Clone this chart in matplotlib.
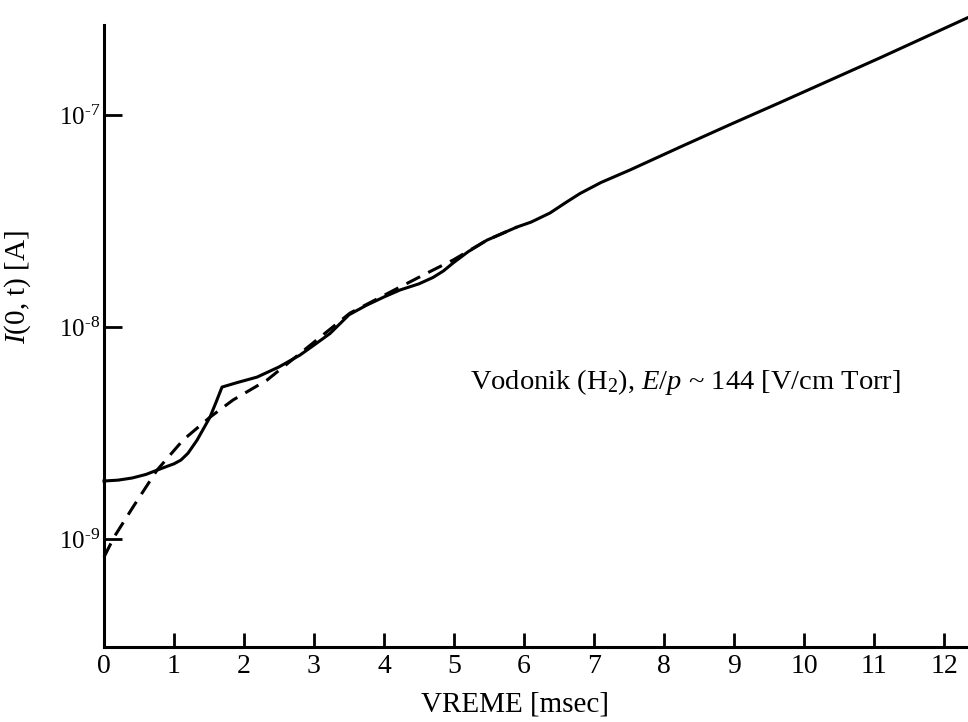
import matplotlib.pyplot as plt
import numpy as np
from matplotlib.ticker import FixedLocator, FixedFormatter

# --- podaci procitani sa slike ---
t_puna = [0.0, 0.2, 0.4, 0.6, 0.757, 0.9, 1.0, 1.1, 1.2, 1.33, 1.42, 1.514, 1.6,
          1.686, 1.9, 2.186, 2.5, 2.8, 3.0, 3.23, 3.5, 3.75, 4.0, 4.229, 4.5,
          4.7, 4.85, 4.986, 5.2, 5.471, 5.9, 6.1, 6.371, 6.6, 6.8, 7.1, 7.514,
          8.229, 8.943, 9.657, 11.086, 12.33]
log_puna = [-8.726, -8.722, -8.712, -8.695, -8.675, -8.657, -8.645, -8.627,
            -8.595, -8.533, -8.48, -8.425, -8.355, -8.283, -8.262, -8.236,
            -8.188, -8.132, -8.085, -8.03, -7.942, -7.897, -7.858, -7.825,
            -7.796, -7.766, -7.735, -7.698, -7.645, -7.590, -7.528, -7.505,
            -7.462, -7.412, -7.37, -7.318, -7.259, -7.151, -7.045, -6.941,
            -6.73, -6.542]

t_isp = [0.0, 0.143, 0.414, 0.757, 1.129, 1.514, 1.843, 2.329, 2.986, 3.514,
         4.229, 4.7, 4.986, 5.471, 5.9]
log_isp = [-9.085, -8.991, -8.849, -8.675, -8.533, -8.425, -8.344, -8.25,
           -8.075, -7.934, -7.811, -7.731, -7.684, -7.59, -7.528]

x_ticks = list(range(0, 13))
y_ticks = [1e-9, 1e-8, 1e-7]
y_labels = ['10$^{\\mathregular{\u20109}}$', '10$^{\\mathregular{\u20108}}$',
            '10$^{\\mathregular{\u20107}}$']

plt.rcParams['font.family'] = ['Liberation Serif', 'DejaVu Serif']
plt.rcParams['mathtext.fontset'] = 'custom'
plt.rcParams['mathtext.rm'] = 'Liberation Serif'
plt.rcParams['mathtext.it'] = 'Liberation Serif:italic'

fig = plt.figure(figsize=(9.68, 7.22), dpi=100)
ax = fig.add_axes([104/968, 1 - 647/722, 1 - 104/968, (647 - 15)/722])

ax.plot(t_puna, 10**np.array(log_puna), color='black', lw=2.2, clip_on=False,
        solid_joinstyle='round')
ax.plot(t_isp, 10**np.array(log_isp), color='black', lw=2.2, dashes=(5, 3), clip_on=False)

ax.set_yscale('log')
ax.set_xlim(0, 864/70)
ax.set_ylim(10**-9.509, 10**-6.528)

ax.spines['top'].set_visible(False)
ax.spines['right'].set_visible(False)
ax.spines['left'].set_linewidth(2.2)
ax.spines['bottom'].set_linewidth(2.2)
ax.spines['left'].set_bounds(10**-9.509, 10**-6.575)

ax.xaxis.set_major_locator(FixedLocator(x_ticks))
ax.yaxis.set_major_locator(FixedLocator(y_ticks))
ax.yaxis.set_major_formatter(FixedFormatter(y_labels))
ax.yaxis.set_minor_locator(FixedLocator([]))
ax.tick_params(axis='x', direction='in', length=10, width=2, labelsize=20, pad=5)
ax.tick_params(axis='y', direction='in', length=13, width=2, labelsize=18, pad=3)

fig.text(18/968, 1 - 287/722, '$I$(0, t) [A]', rotation=90, fontsize=21,
         ha='center', va='center')
fig.text(515/968, 1 - 704/722, 'VREME [msec]', fontsize=21, ha='center', va='center')
ax.text(470, 722 - 382, 'Vodonik (H$_2$), $E/p$ ~ 144 [V/cm Torr]', fontsize=20.5,
        ha='left', va='center', transform=None)

fig.savefig('out.png', dpi=100)
